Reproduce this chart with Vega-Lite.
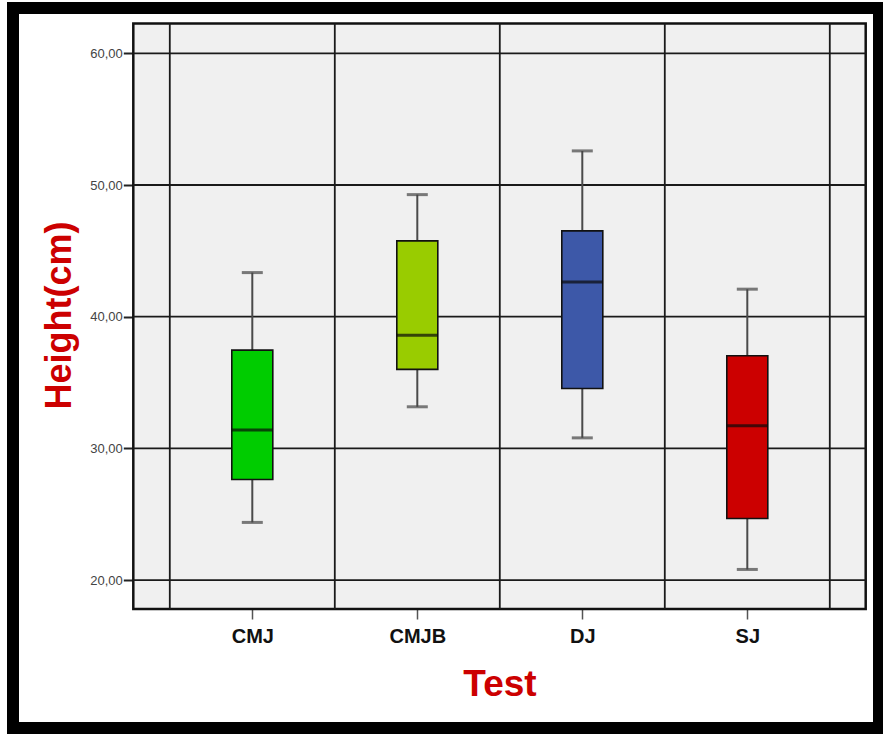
{
  "$schema": "https://vega.github.io/schema/vega-lite/v6.json",
  "width": 866,
  "height": 720,
  "autosize": "none",
  "padding": {"left": 13, "top": 8, "right": 4, "bottom": 10},
  "background": "white",
  "config": {
    "view": {"stroke": "black", "strokeWidth": 12, "fill": "white"},
    "font": "Liberation Sans"
  },
  "datasets": {
    "boxes": [
      {"test": "CMJ", "min": 24.38, "q1": 27.64, "median": 31.39, "q3": 37.46, "max": 43.35},
      {"test": "CMJB", "min": 33.16, "q1": 36.0, "median": 38.6, "q3": 45.76, "max": 49.27},
      {"test": "DJ", "min": 30.8, "q1": 34.55, "median": 42.64, "q3": 46.52, "max": 52.59},
      {"test": "SJ", "min": 20.81, "q1": 24.68, "median": 31.72, "q3": 37.03, "max": 42.09}
    ],
    "ygrid": [{"v": 20}, {"v": 30}, {"v": 40}, {"v": 50}, {"v": 60}],
    "xgrid": [{"b": 0.5}, {"b": 1.5}, {"b": 2.5}, {"b": 3.5}, {"b": 4.5}]
  },
  "resolve": {"scale": {"x": "independent"}, "axis": {"x": "independent"}},
  "layer": [
    {
      "layer": [
        {
          "data": {"values": [{}]},
          "mark": {"type": "rect", "fill": "#f0f0f0", "stroke": "#111111", "strokeWidth": 2.5},
          "encoding": {
            "x": {"datum": 0.2788, "type": "quantitative", "scale": {"domain": [-0.4503, 4.7982]}, "axis": null},
            "x2": {"datum": 4.7176},
            "y": {
              "datum": 17.8, "type": "quantitative",
              "scale": {"domain": [8.77, 63.44], "nice": false, "zero": false},
              "axis": {
                "values": [20, 30, 40, 50, 60],
                "labelExpr": "replace(format(datum.value, '.2f'), '.', ',')",
                "offset": -120.3,
                "domain": false,
                "grid": false,
                "tickSize": 10,
                "tickColor": "#222222",
                "tickWidth": 2,
                "labelPadding": 1,
                "labelFontSize": 13,
                "labelColor": "#444444",
                "labelFont": "Liberation Sans",
                "title": "Height(cm)",
                "titleFont": "Liberation Sans",
                "titleFontSize": 36,
                "titleFontWeight": "bold",
                "titleColor": "#cc0000",
                "titleX": -63,
                "titleY": 307,
                "titleAngle": -90,
                "titleAlign": "center",
                "titleBaseline": "alphabetic"
              }
            },
            "y2": {"datum": 62.26}
          }
        },
        {
          "data": {"name": "ygrid"},
          "mark": {"type": "rule", "color": "#1a1a1a", "strokeWidth": 1.8},
          "encoding": {
            "x": {"datum": 0.2788, "type": "quantitative", "scale": {"domain": [-0.4503, 4.7982]}, "axis": null},
            "x2": {"datum": 4.7176},
            "y": {"field": "v", "type": "quantitative"}
          }
        },
        {
          "data": {"name": "xgrid"},
          "mark": {"type": "rule", "color": "#1a1a1a", "strokeWidth": 1.8},
          "encoding": {
            "x": {"field": "b", "type": "quantitative", "scale": {"domain": [-0.4503, 4.7982]}, "axis": null},
            "y": {"datum": 17.8, "type": "quantitative"},
            "y2": {"datum": 62.26}
          }
        }
      ]
    },
    {
      "data": {"name": "boxes"},
      "encoding": {
        "x": {
          "field": "test", "type": "nominal",
          "scale": {"type": "point", "domain": ["CMJ", "CMJB", "DJ", "SJ"], "padding": 0, "range": [239.3, 734.3]},
          "axis": {
            "offset": -119,
            "domain": false,
            "grid": false,
            "labelAngle": 0,
            "tickSize": 10,
            "tickColor": "#555555",
            "tickWidth": 1.5,
            "labelPadding": 7,
            "labelFont": "Liberation Sans",
            "labelFontSize": 20,
            "labelFontWeight": "bold",
            "labelColor": "#111111",
            "title": "Test",
            "titleFont": "Liberation Sans",
            "titleFontSize": 37,
            "titleFontWeight": "bold",
            "titleColor": "#cc0000",
            "titleX": 486.5,
            "titleY": 86,
            "titleBaseline": "alphabetic",
            "titleAlign": "center"
          }
        }
      },
      "layer": [
        {
          "mark": {"type": "rule", "color": "#4a4a4a", "strokeWidth": 2},
          "encoding": {
            "y": {"field": "min", "type": "quantitative"},
            "y2": {"field": "max"}
          }
        },
        {
          "mark": {"type": "tick", "color": "#444444", "thickness": 3, "size": 21, "orient": "horizontal"},
          "encoding": {"y": {"field": "min", "type": "quantitative"}}
        },
        {
          "mark": {"type": "tick", "color": "#444444", "thickness": 3, "size": 21, "orient": "horizontal"},
          "encoding": {"y": {"field": "max", "type": "quantitative"}}
        },
        {
          "mark": {"type": "bar", "size": 41, "stroke": "#111111", "strokeWidth": 1.6, "orient": "vertical"},
          "encoding": {
            "y": {"field": "q1", "type": "quantitative"},
            "y2": {"field": "q3"},
            "fill": {
              "field": "test", "type": "nominal",
              "scale": {"domain": ["CMJ", "CMJB", "DJ", "SJ"], "range": ["#00cc00", "#99cc00", "#3d58a8", "#cc0000"]},
              "legend": null
            }
          }
        },
        {
          "mark": {"type": "tick", "color": "#0a0a0a", "thickness": 3, "size": 41, "orient": "horizontal"},
          "encoding": {"y": {"field": "median", "type": "quantitative"}}
        }
      ]
    }
  ]
}
